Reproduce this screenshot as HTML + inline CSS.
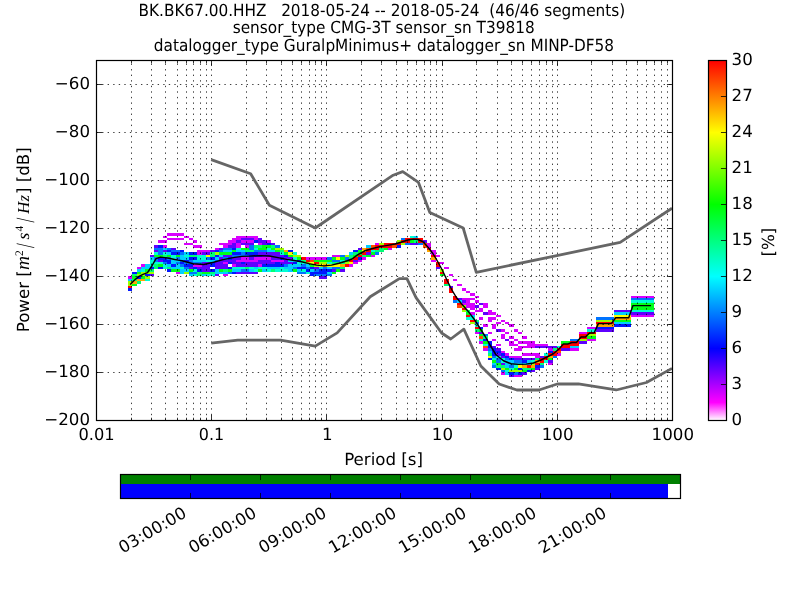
<!DOCTYPE html>
<html lang="en"><head><meta charset="utf-8"><title>PPSD BK.BK67.00.HHZ</title>
<style>html,body{margin:0;padding:0;background:#fff;overflow:hidden}svg{display:block;will-change:transform}text{font-family:"DejaVu Sans", "Liberation Sans", sans-serif;font-size:16.667px;fill:#000;text-rendering:geometricPrecision}.m{font-family:"Liberation Serif","DejaVu Serif",serif;font-style:italic}.r{font-family:"Liberation Serif","DejaVu Serif",serif}.t{font-family:"DejaVu Sans Condensed","DejaVu Sans","Liberation Sans",sans-serif}</style></head><body>
<svg width="800" height="600" viewBox="0 0 800 600">
<rect width="800" height="600" fill="#fff"/>
<text class="t" x="138.6" y="15.7" textLength="486.6" lengthAdjust="spacingAndGlyphs" xml:space="preserve" style="white-space:pre">BK.BK67.00.HHZ   2018-05-24 -- 2018-05-24  (46/46 segments)</text>
<text class="t" x="232.7" y="33.4" textLength="302.0" lengthAdjust="spacingAndGlyphs" xml:space="preserve" style="white-space:pre">sensor_type CMG-3T sensor_sn T39818</text>
<text class="t" x="153.8" y="51.2" textLength="460.3" lengthAdjust="spacingAndGlyphs" xml:space="preserve" style="white-space:pre">datalogger_type GuralpMinimus+ datalogger_sn MINP-DF58</text>
<g shape-rendering="crispEdges"><path fill="#d900ff" d="M128 276h4v3h-4zM137 267h4v2h-4zM141 264h4v3h-4zM158 240h9v3h-9zM163 245h4v3h-4zM163 236h4v2h-4zM167 238h17v2h-17zM167 233h17v3h-17zM176 272h4v2h-4zM184 243h9v2h-9zM184 236h5v2h-5zM189 238h4v2h-4zM193 264h9v3h-9zM193 245h9v3h-9zM193 240h4v3h-4zM197 252h5v3h-5zM197 250h13v2h-13zM215 248h4v2h-4zM219 243h13v2h-13zM223 274h5v2h-5zM223 262h5v2h-5zM223 245h5v3h-5zM228 240h8v3h-8zM232 264h4v3h-4zM232 238h9v2h-9zM236 260h22v2h-22zM236 245h5v3h-5zM236 243h5v2h-5zM236 236h22v2h-22zM241 257h8v3h-8zM241 240h13v3h-13zM245 245h4v3h-4zM254 257h17v3h-17zM254 238h4v2h-4zM258 264h4v3h-4zM258 243h4v2h-4zM267 240h4v3h-4zM271 260h13v2h-13zM306 257h21v3h-21zM332 255h8v2h-8zM349 264h4v3h-4zM353 262h5v2h-5zM358 260h4v2h-4zM362 257h4v3h-4zM371 255h4v2h-4zM375 243h4v2h-4zM388 248h4v2h-4zM427 245h4v3h-4zM427 243h4v2h-4zM431 260h5v2h-5zM431 252h5v3h-5zM431 250h5v2h-5zM436 255h4v2h-4zM440 262h4v2h-4zM444 267h5v2h-5zM449 274h4v2h-4zM453 279h4v2h-4zM457 284h5v2h-5zM462 303h13v2h-13zM462 298h13v2h-13zM462 288h4v3h-4zM466 305h9v3h-9zM466 300h4v3h-4zM466 291h4v2h-4zM470 312h5v3h-5zM470 308h5v2h-5zM470 293h5v3h-5zM475 332h4v2h-4zM475 310h8v2h-8zM475 300h4v3h-4zM475 296h4v2h-4zM479 341h4v3h-4zM479 317h4v3h-4zM479 308h4v2h-4zM483 348h5v3h-5zM483 324h5v3h-5zM483 305h5v3h-5zM483 303h5v2h-5zM488 332h4v2h-4zM488 320h4v2h-4zM488 317h8v3h-8zM488 312h8v3h-8zM488 310h4v2h-4zM492 339h4v2h-4zM492 327h4v2h-4zM492 324h4v3h-4zM496 344h5v2h-5zM496 322h5v2h-5zM496 315h5v2h-5zM501 372h4v3h-4zM501 351h4v2h-4zM501 336h4v3h-4zM501 334h4v2h-4zM501 329h4v3h-4zM501 320h4v2h-4zM505 353h4v3h-4zM505 332h4v2h-4zM505 322h4v2h-4zM509 356h13v2h-13zM509 344h9v2h-9zM509 341h5v3h-5zM509 336h5v3h-5zM509 324h5v3h-5zM514 375h8v2h-8zM514 348h8v3h-8zM514 339h4v2h-4zM514 329h4v3h-4zM518 346h17v2h-17zM518 341h17v3h-17zM518 332h4v2h-4zM522 353h18v3h-18zM522 336h5v3h-5zM527 344h21v2h-21zM535 356h5v2h-5zM548 363h5v2h-5zM548 348h5v3h-5zM557 353h4v3h-4zM570 348h9v3h-9zM579 332h8v2h-8zM587 339h9v2h-9zM587 327h9v2h-9zM631 315h23v2h-23zM631 296h23v2h-23z"/>
<path fill="#5e00ff" d="M150 274h4v2h-4zM150 255h4v2h-4zM154 250h4v2h-4zM154 245h4v3h-4zM158 260h5v2h-5zM163 250h4v2h-4zM171 248h5v2h-5zM189 267h4v2h-4zM197 267h13v2h-13zM202 269h8v3h-8zM202 264h8v3h-8zM202 262h8v2h-8zM202 252h8v3h-8zM210 250h5v2h-5zM215 274h4v2h-4zM215 267h13v2h-13zM215 264h13v3h-13zM215 262h8v2h-8zM219 260h17v2h-17zM219 257h4v3h-4zM219 248h4v2h-4zM223 255h9v2h-9zM228 245h8v3h-8zM232 262h9v2h-9zM232 257h9v3h-9zM232 243h4v2h-4zM236 272h22v2h-22zM236 264h22v3h-22zM236 240h5v3h-5zM241 243h13v2h-13zM241 238h13v2h-13zM245 262h30v2h-30zM249 257h5v3h-5zM258 260h13v2h-13zM258 252h22v3h-22zM258 240h9v3h-9zM258 238h4v2h-4zM262 255h22v2h-22zM262 243h5v2h-5zM271 257h9v3h-9zM271 243h4v2h-4zM280 262h13v2h-13zM284 260h4v2h-4zM284 257h9v3h-9zM314 267h5v2h-5zM319 276h8v3h-8zM332 269h4v3h-4zM340 269h5v3h-5zM353 260h5v2h-5zM358 248h4v2h-4zM366 252h5v3h-5zM410 243h8v2h-8zM423 240h4v3h-4zM436 267h4v2h-4zM449 286h4v2h-4zM457 298h5v2h-5zM462 300h4v3h-4zM475 305h4v3h-4zM479 332h4v2h-4zM479 303h4v2h-4zM483 312h5v3h-5zM492 346h4v2h-4zM496 353h5v3h-5zM496 348h5v3h-5zM496 329h5v3h-5zM501 363h4v2h-4zM501 356h4v2h-4zM505 339h4v2h-4zM509 375h5v2h-5zM514 358h21v2h-21zM522 372h5v3h-5zM531 370h4v2h-4zM535 368h5v2h-5zM535 346h22v2h-22zM540 356h4v2h-4zM548 360h5v3h-5zM561 348h9v3h-9zM579 341h8v3h-8zM596 329h18v3h-18zM614 310h17v2h-17zM631 312h23v3h-23z"/>
<path fill="#0016ff" d="M128 288h4v3h-4zM132 272h5v2h-5zM137 276h4v3h-4zM145 274h5v2h-5zM150 267h4v2h-4zM158 267h5v2h-5zM158 257h9v3h-9zM158 245h5v3h-5zM163 260h8v2h-8zM167 269h4v3h-4zM167 262h4v2h-4zM167 250h4v2h-4zM171 264h5v3h-5zM171 252h9v3h-9zM180 262h4v2h-4zM180 250h4v2h-4zM184 264h9v3h-9zM184 260h5v2h-5zM189 257h8v3h-8zM189 252h8v3h-8zM193 267h4v2h-4zM197 269h5v3h-5zM210 269h5v3h-5zM210 264h5v3h-5zM210 262h5v2h-5zM210 257h5v3h-5zM215 255h4v2h-4zM215 250h4v2h-4zM228 267h4v2h-4zM228 262h4v2h-4zM228 257h4v3h-4zM232 272h4v2h-4zM232 252h9v3h-9zM232 248h4v2h-4zM241 262h4v2h-4zM245 252h13v3h-13zM249 255h13v2h-13zM254 240h4v3h-4zM262 264h22v3h-22zM267 243h4v2h-4zM275 262h5v2h-5zM280 257h4v3h-4zM284 255h4v2h-4zM288 250h5v2h-5zM293 262h4v2h-4zM297 267h9v2h-9zM297 260h4v2h-4zM306 269h4v3h-4zM310 274h4v2h-4zM310 272h17v2h-17zM310 267h4v2h-4zM319 269h13v3h-13zM353 250h5v2h-5zM358 257h4v3h-4zM397 245h4v3h-4zM479 327h4v2h-4zM483 339h5v2h-5zM488 358h4v2h-4zM488 346h4v2h-4zM488 344h4v2h-4zM488 341h4v3h-4zM492 353h4v3h-4zM492 351h9v2h-9zM492 348h4v3h-4zM496 368h5v2h-5zM501 353h4v3h-4zM505 356h4v2h-4zM509 372h5v3h-5zM509 358h5v2h-5zM518 372h4v3h-4zM518 368h4v2h-4zM522 360h5v3h-5zM527 370h4v2h-4zM535 365h5v3h-5zM548 351h5v2h-5zM596 327h18v2h-18zM614 324h17v3h-17z"/>
<path fill="#0073ff" d="M154 260h4v2h-4zM154 257h4v3h-4zM154 248h9v2h-9zM158 252h5v3h-5zM158 250h5v2h-5zM163 262h4v2h-4zM167 257h4v3h-4zM167 248h4v2h-4zM171 250h9v2h-9zM176 262h4v2h-4zM176 257h4v3h-4zM180 264h4v3h-4zM180 260h4v2h-4zM180 252h4v3h-4zM184 267h5v2h-5zM184 262h18v2h-18zM189 272h8v2h-8zM189 260h4v2h-4zM206 257h4v3h-4zM215 260h4v2h-4zM219 250h4v2h-4zM223 257h5v3h-5zM223 248h9v2h-9zM228 272h4v2h-4zM232 255h17v2h-17zM241 269h8v3h-8zM241 252h4v3h-4zM249 248h5v2h-5zM249 245h5v3h-5zM254 250h13v2h-13zM275 245h5v3h-5zM284 264h4v3h-4zM293 267h4v2h-4zM297 272h9v2h-9zM301 264h5v3h-5zM306 267h4v2h-4zM314 274h18v2h-18zM314 269h5v3h-5zM323 267h4v2h-4zM327 257h5v3h-5zM332 267h8v2h-8zM332 260h8v2h-8zM340 255h5v2h-5zM345 257h4v3h-4zM375 252h4v3h-4zM401 238h4v2h-4zM405 243h5v2h-5zM418 243h5v2h-5zM453 300h4v3h-4zM475 322h4v2h-4zM483 334h5v2h-5zM488 348h4v3h-4zM492 365h4v3h-4zM492 356h4v2h-4zM496 360h5v3h-5zM496 358h5v2h-5zM501 370h4v2h-4zM505 358h4v2h-4zM509 365h5v3h-5zM514 372h4v3h-4zM514 360h8v3h-8zM540 365h4v3h-4zM553 356h4v2h-4zM570 339h9v2h-9zM596 317h18v3h-18zM631 298h23v2h-23z"/>
<path fill="#00cfff" d="M128 279h4v2h-4zM137 269h4v3h-4zM141 267h9v2h-9zM145 264h5v3h-5zM150 257h4v3h-4zM163 248h4v2h-4zM167 264h4v3h-4zM167 252h4v3h-4zM171 267h9v2h-9zM171 262h5v2h-5zM171 260h9v2h-9zM176 264h4v3h-4zM180 272h4v2h-4zM180 269h9v3h-9zM180 257h9v3h-9zM180 255h4v2h-4zM184 252h5v3h-5zM189 274h4v2h-4zM193 260h13v2h-13zM202 274h4v2h-4zM210 260h5v2h-5zM215 272h13v2h-13zM215 269h4v3h-4zM215 257h4v3h-4zM219 255h4v2h-4zM223 250h9v2h-9zM232 269h9v3h-9zM236 250h9v2h-9zM249 269h5v3h-5zM254 267h4v2h-4zM262 269h5v3h-5zM267 267h13v2h-13zM267 250h8v2h-8zM284 267h9v2h-9zM288 269h5v3h-5zM288 264h13v3h-13zM288 260h9v2h-9zM297 269h4v3h-4zM306 264h4v3h-4zM310 269h4v3h-4zM319 267h4v2h-4zM327 272h5v2h-5zM327 267h5v2h-5zM349 252h4v3h-4zM366 245h5v3h-5zM414 236h4v2h-4zM457 300h5v3h-5zM470 315h5v2h-5zM488 351h4v2h-4zM492 363h4v2h-4zM505 372h4v3h-4zM505 365h4v3h-4zM505 363h26v2h-26zM505 360h9v3h-9zM527 360h4v3h-4zM570 346h9v2h-9zM614 322h17v2h-17zM614 312h17v3h-17z"/>
<path fill="#00ffd3" d="M141 269h4v3h-4zM145 279h5v2h-5zM150 264h4v3h-4zM150 262h13v2h-13zM150 260h4v2h-4zM154 252h4v3h-4zM163 267h4v2h-4zM163 264h4v3h-4zM163 252h4v3h-4zM171 257h5v3h-5zM171 255h5v2h-5zM180 267h4v2h-4zM184 255h5v2h-5zM193 274h4v2h-4zM193 269h4v3h-4zM197 257h9v3h-9zM197 255h9v2h-9zM206 274h9v2h-9zM206 260h4v2h-4zM232 267h13v2h-13zM236 248h5v2h-5zM249 267h5v2h-5zM254 269h4v3h-4zM254 248h4v2h-4zM258 267h9v2h-9zM267 269h4v3h-4zM267 248h4v2h-4zM275 269h13v3h-13zM280 267h4v2h-4zM280 252h4v3h-4zM293 257h4v3h-4zM293 252h4v3h-4zM297 262h9v2h-9zM301 269h5v3h-5zM306 272h4v2h-4zM327 262h5v2h-5zM340 260h5v2h-5zM371 250h4v2h-4zM410 236h4v2h-4zM466 317h9v3h-9zM475 324h4v3h-4zM479 339h4v2h-4zM483 344h5v2h-5zM492 358h4v2h-4zM496 356h5v2h-5zM501 360h4v3h-4zM501 358h4v2h-4zM505 370h4v2h-4zM509 368h5v2h-5zM514 365h4v3h-4zM531 360h4v3h-4zM544 360h4v3h-4zM544 353h4v3h-4zM557 346h4v2h-4zM587 329h9v3h-9zM631 310h23v2h-23zM631 300h23v3h-23z"/>
<path fill="#00ff76" d="M132 279h5v2h-5zM132 274h5v2h-5zM137 281h4v3h-4zM150 269h4v3h-4zM154 267h4v2h-4zM154 264h4v3h-4zM163 255h4v2h-4zM167 267h4v2h-4zM189 255h8v2h-8zM197 274h5v2h-5zM197 272h5v2h-5zM210 272h5v2h-5zM210 255h5v2h-5zM210 252h5v3h-5zM223 269h5v3h-5zM245 267h4v2h-4zM245 250h9v2h-9zM254 245h8v3h-8zM271 269h4v3h-4zM271 245h4v3h-4zM280 250h4v2h-4zM301 260h5v2h-5zM332 262h13v2h-13zM340 267h5v2h-5zM349 257h4v3h-4zM349 255h4v2h-4zM353 252h5v3h-5zM362 255h4v2h-4zM375 250h9v2h-9zM379 248h5v2h-5zM414 240h4v3h-4zM444 284h5v2h-5zM466 310h4v2h-4zM475 329h4v3h-4zM475 320h4v2h-4zM483 336h5v3h-5zM488 353h4v3h-4zM496 365h9v3h-9zM522 368h9v2h-9zM535 358h5v2h-5zM540 363h4v2h-4zM553 348h4v3h-4z"/>
<path fill="#00ff1a" d="M132 284h5v2h-5zM132 276h5v3h-5zM137 272h4v2h-4zM141 276h4v3h-4zM145 269h5v3h-5zM154 255h9v2h-9zM158 264h5v3h-5zM167 255h4v2h-4zM171 269h9v3h-9zM176 255h4v2h-4zM189 269h4v3h-4zM202 272h8v2h-8zM219 269h4v3h-4zM219 252h13v3h-13zM228 269h4v3h-4zM232 250h4v2h-4zM241 248h8v2h-8zM258 269h4v3h-4zM258 248h9v2h-9zM262 245h9v3h-9zM271 248h4v2h-4zM275 250h5v2h-5zM284 252h4v3h-4zM288 255h5v2h-5zM293 269h4v3h-4zM297 257h4v3h-4zM310 264h4v3h-4zM314 260h18v2h-18zM332 272h4v2h-4zM332 257h4v3h-4zM336 269h4v3h-4zM340 257h5v3h-5zM345 260h4v2h-4zM353 255h5v2h-5zM358 252h4v3h-4zM358 250h4v2h-4zM366 255h5v2h-5zM371 252h4v3h-4zM384 248h4v2h-4zM410 240h4v3h-4zM440 274h4v2h-4zM466 312h4v3h-4zM479 334h4v2h-4zM479 329h4v3h-4zM483 341h5v3h-5zM492 360h4v3h-4zM496 363h5v2h-5zM505 368h4v2h-4zM514 368h4v2h-4zM522 370h5v2h-5zM531 368h4v2h-4zM548 358h5v2h-5zM561 341h9v3h-9zM587 336h9v3h-9zM614 320h17v2h-17zM631 308h23v2h-23zM631 305h23v3h-23zM631 303h23v2h-23z"/>
<path fill="#9fff00" d="M128 284h4v2h-4zM128 281h4v3h-4zM137 274h8v2h-8zM141 272h13v2h-13zM145 276h5v3h-5zM184 272h5v2h-5zM215 252h4v3h-4zM275 248h9v2h-9zM293 255h8v2h-8zM306 262h4v2h-4zM314 264h5v3h-5zM319 262h8v2h-8zM345 262h4v2h-4zM345 255h4v2h-4zM379 243h5v2h-5zM397 240h4v3h-4zM401 243h4v2h-4zM440 269h4v3h-4zM462 310h4v2h-4zM462 305h4v3h-4zM470 322h5v2h-5zM501 368h4v2h-4zM509 370h13v2h-13zM531 363h4v2h-4zM579 339h8v2h-8zM587 334h9v2h-9zM596 320h18v2h-18z"/>
<path fill="#fbff00" d="M206 255h4v2h-4zM288 252h5v3h-5zM310 262h4v2h-4zM319 264h4v3h-4zM327 264h13v3h-13zM336 257h4v3h-4zM349 262h4v2h-4zM362 250h4v2h-4zM488 356h4v2h-4zM518 365h4v3h-4zM614 315h17v2h-17z"/>
<path fill="#ffa600" d="M132 281h5v3h-5zM137 279h8v2h-8zM284 250h4v2h-4zM323 264h4v3h-4zM340 264h5v3h-5zM362 248h4v2h-4zM427 250h4v2h-4zM431 257h5v3h-5zM522 365h5v3h-5zM531 365h4v3h-4zM535 360h5v3h-5zM548 356h5v2h-5zM596 324h18v3h-18zM614 317h17v3h-17z"/>
<path fill="#ff4a00" d="M310 260h4v2h-4zM366 248h5v2h-5zM371 245h4v3h-4zM392 245h5v3h-5zM423 245h4v3h-4zM423 243h4v2h-4zM457 305h5v3h-5zM479 336h4v3h-4zM483 346h5v2h-5zM557 351h4v2h-4z"/>
<path fill="#ff0000" d="M128 286h4v2h-4zM301 257h5v3h-5zM306 260h4v2h-4zM314 262h5v2h-5zM345 264h4v3h-4zM349 260h4v2h-4zM353 257h5v3h-5zM358 255h4v2h-4zM362 252h4v3h-4zM366 250h5v2h-5zM371 248h8v2h-8zM375 245h17v3h-17zM384 243h17v2h-17zM401 240h9v3h-9zM405 238h18v2h-18zM418 240h5v3h-5zM427 248h4v2h-4zM431 255h5v2h-5zM436 264h4v3h-4zM436 262h4v2h-4zM440 272h4v2h-4zM444 281h5v3h-5zM444 279h5v2h-5zM449 291h4v2h-4zM449 288h4v3h-4zM453 298h4v2h-4zM453 296h4v2h-4zM457 303h5v2h-5zM462 308h4v2h-4zM466 315h4v2h-4zM470 320h5v2h-5zM475 327h4v2h-4zM527 365h4v3h-4zM535 363h5v2h-5zM540 360h4v3h-4zM540 358h8v2h-8zM544 356h4v2h-4zM548 353h9v3h-9zM553 351h4v2h-4zM557 348h4v3h-4zM561 346h9v2h-9zM561 344h18v2h-18zM570 341h9v3h-9zM579 336h8v3h-8zM579 334h8v2h-8zM587 332h9v2h-9zM596 322h18v2h-18z"/></g>
<g fill="none" stroke="#000" stroke-width="0.75" stroke-dasharray="1.39 4.17">
<path d="M131.5 420.0V60.0M151.5 420.0V60.0M165.5 420.0V60.0M177.5 420.0V60.0M186.5 420.0V60.0M193.5 420.0V60.0M200.5 420.0V60.0M206.5 420.0V60.0M211.5 420.0V60.0M246.5 420.0V60.0M266.5 420.0V60.0M281.5 420.0V60.0M292.5 420.0V60.0M301.5 420.0V60.0M309.5 420.0V60.0M315.5 420.0V60.0M321.5 420.0V60.0M326.5 420.0V60.0M361.5 420.0V60.0M381.5 420.0V60.0M396.5 420.0V60.0M407.5 420.0V60.0M416.5 420.0V60.0M424.5 420.0V60.0M430.5 420.0V60.0M436.5 420.0V60.0M442.5 420.0V60.0M476.5 420.0V60.0M497.5 420.0V60.0M511.5 420.0V60.0M522.5 420.0V60.0M531.5 420.0V60.0M539.5 420.0V60.0M546.5 420.0V60.0M552.5 420.0V60.0M557.5 420.0V60.0M591.5 420.0V60.0M612.5 420.0V60.0M626.5 420.0V60.0M637.5 420.0V60.0M646.5 420.0V60.0M654.5 420.0V60.0M661.5 420.0V60.0M667.5 420.0V60.0" stroke-dashoffset="0.75"/>
<path d="M96.0 372.5H672.0M96.0 324.5H672.0M96.0 276.5H672.0M96.0 228.5H672.0M96.0 180.5H672.0M96.0 132.5H672.0M96.0 84.5H672.0" stroke-dashoffset="-0.5"/>
</g>
<g fill="none" stroke="#666" stroke-width="2.78" stroke-linejoin="round" stroke-linecap="butt">
<polyline points="211.20,159.60 250.65,173.77 269.39,205.20 315.24,228.00 393.19,175.19 402.75,171.59 418.48,182.40 429.81,212.39 463.20,228.01 476.28,272.39 620.16,242.41 672.00,208.25"/>
<polyline points="211.20,343.20 237.75,340.08 280.56,340.07 315.24,346.08 337.16,332.87 370.20,296.75 399.38,278.64 406.92,278.63 416.04,297.60 441.60,333.00 450.72,338.99 463.85,329.11 480.82,366.01 499.16,383.99 516.85,390.00 538.96,390.00 557.30,384.00 578.40,383.97 616.23,389.98 646.44,382.51 672.00,368.35"/>
</g>
<polyline fill="none" stroke="#000" stroke-width="1.45" stroke-linejoin="round" points="130.2,284.5 134.5,280 139,276.4 143,274.4 147.5,272.6 152,265.75 156,258.6 160.5,257.1 165,257.6 169,258.25 173.5,259.2 178,260.1 182,260.8 193.25,263.75 203.75,264.5 213.5,262.25 223.25,259.6 234.5,257.4 242,256.4 249.25,256.15 260.5,255.6 269.5,256 279.25,257.9 286.75,259.4 294,260.5 301.5,261.75 309,263.6 316.5,265.1 324,265.9 331.5,265.1 339,263.25 346.5,261 352,259 357.5,254.9 365,250.75 372.5,248.5 380,246.6 387.5,245.35 395,244 402.5,241.75 408,240 413.5,239.1 418,239.5 423,241.75 428.5,247.75 433,253.75 437.5,261.25 442.5,270.5 447.25,280.75 451.75,289.75 456.25,297.25 461.25,303.5 468.75,312.1 474.75,320 480,328.25 485.25,336.5 490,345 496,354.75 503.5,360.75 511,363.75 518.5,364.35 526,364.1 533.5,363 541,360 548.5,356.25 553,354 559,349 563.4,344 567.7,344 572,342.5 576.4,342.5 581,337 585.4,337 589.7,333 594,333 598.4,323.6 611.4,323.6 615.7,317.8 628.7,317.8 633,305.6 651,305.6"/>
<path d="M96.5 420.5v-5.56M96.5 60.5v5.56M131.5 420.5v-2.78M131.5 60.5v2.78M151.5 420.5v-2.78M151.5 60.5v2.78M165.5 420.5v-2.78M165.5 60.5v2.78M177.5 420.5v-2.78M177.5 60.5v2.78M186.5 420.5v-2.78M186.5 60.5v2.78M193.5 420.5v-2.78M193.5 60.5v2.78M200.5 420.5v-2.78M200.5 60.5v2.78M206.5 420.5v-2.78M206.5 60.5v2.78M211.5 420.5v-5.56M211.5 60.5v5.56M246.5 420.5v-2.78M246.5 60.5v2.78M266.5 420.5v-2.78M266.5 60.5v2.78M281.5 420.5v-2.78M281.5 60.5v2.78M292.5 420.5v-2.78M292.5 60.5v2.78M301.5 420.5v-2.78M301.5 60.5v2.78M309.5 420.5v-2.78M309.5 60.5v2.78M315.5 420.5v-2.78M315.5 60.5v2.78M321.5 420.5v-2.78M321.5 60.5v2.78M326.5 420.5v-5.56M326.5 60.5v5.56M361.5 420.5v-2.78M361.5 60.5v2.78M381.5 420.5v-2.78M381.5 60.5v2.78M396.5 420.5v-2.78M396.5 60.5v2.78M407.5 420.5v-2.78M407.5 60.5v2.78M416.5 420.5v-2.78M416.5 60.5v2.78M424.5 420.5v-2.78M424.5 60.5v2.78M430.5 420.5v-2.78M430.5 60.5v2.78M436.5 420.5v-2.78M436.5 60.5v2.78M442.5 420.5v-5.56M442.5 60.5v5.56M476.5 420.5v-2.78M476.5 60.5v2.78M497.5 420.5v-2.78M497.5 60.5v2.78M511.5 420.5v-2.78M511.5 60.5v2.78M522.5 420.5v-2.78M522.5 60.5v2.78M531.5 420.5v-2.78M531.5 60.5v2.78M539.5 420.5v-2.78M539.5 60.5v2.78M546.5 420.5v-2.78M546.5 60.5v2.78M552.5 420.5v-2.78M552.5 60.5v2.78M557.5 420.5v-5.56M557.5 60.5v5.56M591.5 420.5v-2.78M591.5 60.5v2.78M612.5 420.5v-2.78M612.5 60.5v2.78M626.5 420.5v-2.78M626.5 60.5v2.78M637.5 420.5v-2.78M637.5 60.5v2.78M646.5 420.5v-2.78M646.5 60.5v2.78M654.5 420.5v-2.78M654.5 60.5v2.78M661.5 420.5v-2.78M661.5 60.5v2.78M667.5 420.5v-2.78M667.5 60.5v2.78M672.5 420.5v-5.56M672.5 60.5v5.56M96.5 420.5h5.56M672.5 420.5h-5.56M96.5 372.5h5.56M672.5 372.5h-5.56M96.5 324.5h5.56M672.5 324.5h-5.56M96.5 276.5h5.56M672.5 276.5h-5.56M96.5 228.5h5.56M672.5 228.5h-5.56M96.5 180.5h5.56M672.5 180.5h-5.56M96.5 132.5h5.56M672.5 132.5h-5.56M96.5 84.5h5.56M672.5 84.5h-5.56" fill="none" stroke="#000" stroke-width="0.8"/>
<rect x="96.5" y="60.5" width="576.0" height="360.0" fill="none" stroke="#000" stroke-width="1.2"/>
<text x="96.5" y="439.5" text-anchor="middle" textLength="36.2" lengthAdjust="spacingAndGlyphs">0.01</text>
<text x="211.5" y="439.5" text-anchor="middle" textLength="25.4" lengthAdjust="spacingAndGlyphs">0.1</text>
<text x="327.2" y="439.5" text-anchor="middle">1</text>
<text x="442.4" y="439.5" text-anchor="middle">10</text>
<text x="557.6" y="439.5" text-anchor="middle">100</text>
<text x="672.8" y="439.5" text-anchor="middle">1000</text>
<text x="90.0" y="424.7" text-anchor="end">−200</text>
<text x="90.0" y="376.7" text-anchor="end">−180</text>
<text x="90.0" y="328.7" text-anchor="end">−160</text>
<text x="90.0" y="280.7" text-anchor="end">−140</text>
<text x="90.0" y="232.7" text-anchor="end">−120</text>
<text x="90.0" y="184.7" text-anchor="end">−100</text>
<text x="90.0" y="136.7" text-anchor="end">−80</text>
<text x="90.0" y="88.7" text-anchor="end">−60</text>
<text x="383.6" y="464.5" text-anchor="middle">Period [s]</text>
<g transform="translate(29.2 332.3) rotate(-90)">
<text x="0" y="0">Power [</text>
<text class="m" x="62.3" y="0" style="font-size:19.5px">m</text>
<text class="r" x="76.4" y="-6.2" style="font-size:11.5px">2</text>
<text class="r" transform="translate(84.4 4.8) scale(1 1.5)" style="font-size:17.5px">/</text>
<text class="m" x="92.8" y="0" style="font-size:17.5px">s</text>
<text class="r" x="100.8" y="-6.2" style="font-size:11.5px">4</text>
<text class="r" transform="translate(109.8 4.8) scale(1 1.5)" style="font-size:17.5px">/</text>
<text class="m" x="118.6" y="0" style="font-size:16.8px">Hz</text>
<text x="138.2" y="0">] [dB]</text>
</g>
<defs><linearGradient id="cb" x1="0" y1="1" x2="0" y2="0">
<stop offset="0" stop-color="#ffffff"/>
<stop offset="0.05" stop-color="#ff00ff"/>
<stop offset="0.2" stop-color="#0000ff"/>
<stop offset="0.4" stop-color="#00ffff"/>
<stop offset="0.6" stop-color="#00ff00"/>
<stop offset="0.8" stop-color="#ffff00"/>
<stop offset="1" stop-color="#ff0000"/>
</linearGradient></defs>
<rect x="708.5" y="60.5" width="18.0" height="360.0" fill="url(#cb)" stroke="#000" stroke-width="1.2"/>
<text x="731.6" y="424.7">0</text>
<text x="731.6" y="388.7">3</text>
<text x="731.6" y="352.7">6</text>
<text x="731.6" y="316.7">9</text>
<text x="731.6" y="280.7">12</text>
<text x="731.6" y="244.7">15</text>
<text x="731.6" y="208.7">18</text>
<text x="731.6" y="172.7">21</text>
<text x="731.6" y="136.7">24</text>
<text x="731.6" y="100.7">27</text>
<text x="731.6" y="64.7">30</text>
<path d="M726.5 384.5h-5.56M726.5 348.5h-5.56M726.5 312.5h-5.56M726.5 276.5h-5.56M726.5 240.5h-5.56M726.5 204.5h-5.56M726.5 168.5h-5.56M726.5 132.5h-5.56M726.5 96.5h-5.56" fill="none" stroke="#000" stroke-width="0.8"/>
<text transform="translate(774.3 242.2) rotate(-90)" text-anchor="middle">[%]</text>
<rect x="120.0" y="484.0" width="548.0" height="14.0" fill="#0000ff" shape-rendering="crispEdges"/>
<rect x="120.0" y="474.0" width="560.0" height="10.0" fill="#008000" shape-rendering="crispEdges"/>
<text transform="translate(187.6 516.3) rotate(-30)" class="d" text-anchor="end">03:00:00</text>
<text transform="translate(257.6 516.3) rotate(-30)" class="d" text-anchor="end">06:00:00</text>
<text transform="translate(327.6 516.3) rotate(-30)" class="d" text-anchor="end">09:00:00</text>
<text transform="translate(397.6 516.3) rotate(-30)" class="d" text-anchor="end">12:00:00</text>
<text transform="translate(467.6 516.3) rotate(-30)" class="d" text-anchor="end">15:00:00</text>
<text transform="translate(537.6 516.3) rotate(-30)" class="d" text-anchor="end">18:00:00</text>
<text transform="translate(607.6 516.3) rotate(-30)" class="d" text-anchor="end">21:00:00</text>
<path d="M190.5 498.5v-5.56M190.5 474.5v5.56M260.5 498.5v-5.56M260.5 474.5v5.56M330.5 498.5v-5.56M330.5 474.5v5.56M400.5 498.5v-5.56M400.5 474.5v5.56M470.5 498.5v-5.56M470.5 474.5v5.56M540.5 498.5v-5.56M540.5 474.5v5.56M610.5 498.5v-5.56M610.5 474.5v5.56" fill="none" stroke="#000" stroke-width="0.8"/>
<rect x="120.5" y="474.5" width="560.0" height="24.0" fill="none" stroke="#000" stroke-width="1.2"/>
</svg></body></html>
